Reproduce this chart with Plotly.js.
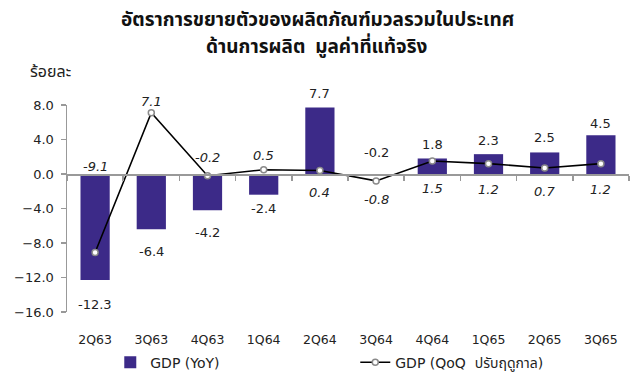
<!DOCTYPE html>
<html>
<head>
<meta charset="utf-8">
<script src="https://cdn.plot.ly/plotly-3.0.1.min.js"></script>
<style>html,body{margin:0;padding:0;background:#fff;}#chart{width:639px;height:385px;}</style>
</head>
<body>
<div id="chart"></div>
<script>
// ---- data ----
const quarters = ['2Q63','3Q63','4Q63','1Q64','2Q64','3Q64','4Q64','1Q65','2Q65','3Q65'];
const gdpYoY   = [-12.3, -6.4, -4.2, -2.4, 7.7, -0.2, 1.8, 2.3, 2.5, 4.5];
const gdpQoQ   = [-9.1, 7.1, -0.2, 0.5, 0.4, -0.8, 1.5, 1.2, 0.7, 1.2];
const yTicks   = [-16, -12, -8, -4, 0, 4, 8];
const titleLines = ['อัตราการขยายตัวของผลิตภัณฑ์มวลรวมในประเทศ', 'ด้านการผลิต  มูลค่าที่แท้จริง'];

// ---- label placement (pixel offsets, style only) ----
const yoyShift = [-24, -22, -22, -14, 14, 23, 14, 14, 15, 12];
const qoqShift = [86, 11, 18, 14, -22, -19, -27, -26, -24, -26];

const numFont = 'DejaVu Sans, Verdana, sans-serif';
const thaiFont = 'Noto Sans Thai, Noto Sans, DejaVu Sans, sans-serif';

const traces = [
  {
    type: 'bar', name: 'GDP (YoY)', x: quarters, y: gdpYoY,
    marker: {color: '#3c2a88'}, width: 0.52,
    xaxis: 'x', yaxis: 'y', hoverinfo: 'skip'
  },
  {
    type: 'scatter', mode: 'lines+markers', name: 'GDP (QoQ  ปรับฤดูกาล)',
    x: quarters, y: gdpQoQ, xaxis: 'x2', yaxis: 'y',
    line: {color: '#000', width: 1.6},
    marker: {symbol: 'circle', size: 6, color: '#fff', line: {color: '#8a8a8a', width: 1.5}},
    hoverinfo: 'skip'
  }
];

const annotations = [];
quarters.forEach((q, i) => {
  annotations.push({
    x: q, y: gdpYoY[i], xref: 'x', yref: 'y', yshift: yoyShift[i],
    text: gdpYoY[i].toFixed(1), showarrow: false,
    font: {family: numFont, size: 13, color: '#222'}
  });
  annotations.push({
    x: q, y: gdpQoQ[i], xref: 'x', yref: 'y', yshift: qoqShift[i],
    text: '<i>' + gdpQoQ[i].toFixed(1) + '</i>', showarrow: false,
    font: {family: numFont, size: 13, color: '#222'}
  });
});
annotations.push({
  text: 'ร้อยละ', xref: 'paper', yref: 'paper', x: -0.03, y: 1.16,
  xanchor: 'center', yanchor: 'middle',
  showarrow: false, font: {family: thaiFont, size: 16, color: '#222'}
});
annotations.push({
  text: titleLines[0], xref: 'paper', yref: 'paper', x: 0.445, y: 1.41,
  xanchor: 'center', yanchor: 'middle',
  showarrow: false, font: {family: thaiFont, size: 19, color: '#111', weight: 'bold'}
});
annotations.push({
  text: titleLines[1], xref: 'paper', yref: 'paper', x: 0.445, y: 1.28,
  xanchor: 'center', yanchor: 'middle',
  showarrow: false, font: {family: thaiFont, size: 19, color: '#111', weight: 'bold'}
});

const zeroPos = (0 - (-16)) / (8 - (-16));

const layout = {
  width: 639, height: 385,
  margin: {l: 67, r: 10, t: 105, b: 73, autoexpand: false},
  paper_bgcolor: '#fff', plot_bgcolor: '#fff',
  showlegend: true,
  legend: {
    orientation: 'h', x: 0.077, xanchor: 'left', y: -0.245, yanchor: 'middle',
    entrywidth: 200, entrywidthmode: 'pixels',
    font: {family: numFont + ', ' + thaiFont, size: 14, color: '#222'},
    traceorder: 'normal'
  },
  xaxis: {
    type: 'category', categoryorder: 'array', categoryarray: quarters,
    range: [-0.5, 9.5], showline: false, ticks: '', showgrid: false, zeroline: false,
    tickfont: {family: numFont, size: 12.5, color: '#222'}, ticklabelstandoff: 18
  },
  xaxis2: {
    type: 'category', categoryorder: 'array', categoryarray: quarters,
    overlaying: 'x', matches: 'x', anchor: 'free', position: zeroPos,
    range: [-0.5, 9.5], showline: true, linecolor: '#999', linewidth: 1.5,
    ticks: 'outside', tickson: 'boundaries', ticklen: 5, tickcolor: '#999', tickwidth: 1.5,
    showticklabels: false, showgrid: false, zeroline: false
  },
  yaxis: {
    range: [-16, 8], tickvals: yTicks, tickformat: '.1f',
    showline: true, linecolor: '#999', linewidth: 1.5,
    ticks: 'outside', ticklen: 5, tickcolor: '#999', tickwidth: 1.5,
    showgrid: false, zeroline: false,
    tickfont: {family: numFont, size: 13, color: '#222'}, ticklabelstandoff: 4
  },
  annotations: annotations,
  bargap: 0.48
};

Plotly.newPlot('chart', traces, layout, {displayModeBar: false, staticPlot: true});
</script>
</body>
</html>
